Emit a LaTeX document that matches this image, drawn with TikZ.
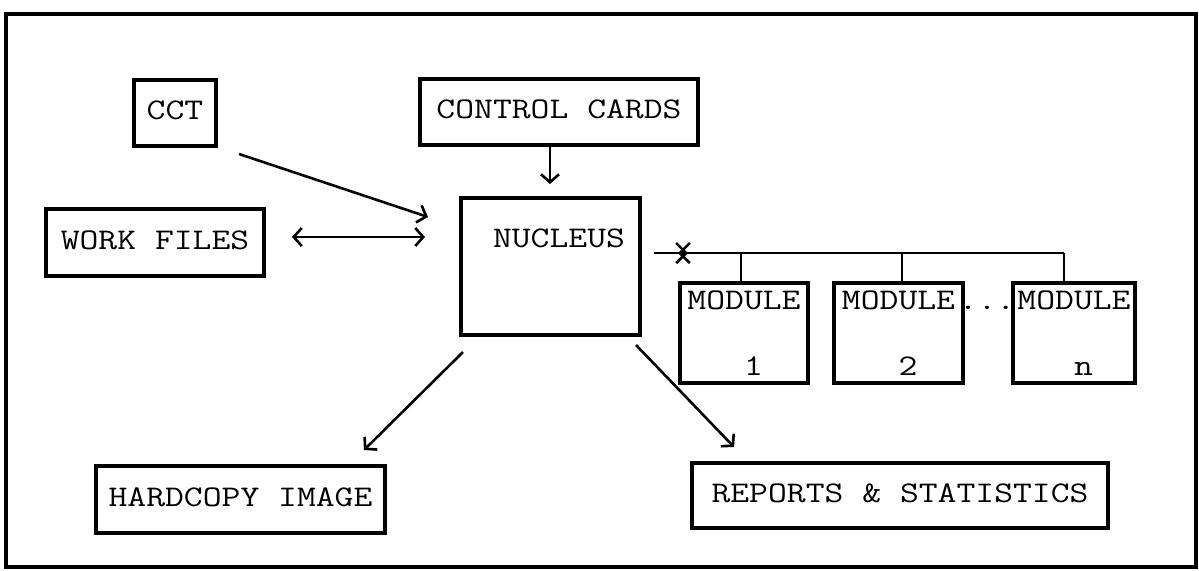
\documentclass[tikz,border=0pt]{standalone}
\usepackage{graphicx}
\usetikzlibrary{arrows.meta}
\newcommand\twtext[1]{\scalebox{1.22}[1]{#1}}
\tikzset{
  txt/.style={font=\fontsize{15}{18}\selectfont\ttfamily, inner sep=0pt},
  box/.style={draw, line width=1.6pt, txt, text depth=2.5pt},
  arr/.style={line width=1.3pt, ->},
  darr/.style={line width=1.3pt, <->},
  busline/.style={line width=1.3pt},
  bigbarb/.style={>={Straight Barb[length=5pt,width=10pt]}},
}
\begin{document}
\begin{tikzpicture}[x=0.5pt,y=-0.5pt, >={Straight Barb[length=4pt,width=9pt]}]
\useasboundingbox (0,0) rectangle (1199,570);
\draw[line width=1.6pt] (6,14) rectangle (1196,567);

\node[box,minimum width=41pt,minimum height=33pt] (cct) at (175,113) {\twtext{CCT}};
\node[box,minimum width=139pt,minimum height=33pt] (ctrl) at (559,112) {\twtext{CONTROL CARDS}};
\node[box,minimum width=109pt,minimum height=33.5pt] (work) at (155,242.5) {\twtext{WORK FILES}};
\node[box,minimum width=89.5pt,minimum height=68.5pt] (nuc) at (550.5,266.5) {};
\node[txt,anchor=base] (nuct) at (559,247) {\twtext{NUCLEUS}};

\node[box,minimum width=64pt,minimum height=50pt] (m1) at (744,333) {};
\node[box,minimum width=64.5pt,minimum height=50pt] (m2) at (898.5,333) {};
\node[box,minimum width=61pt,minimum height=50pt] (mn) at (1074,333) {};
\node[txt,anchor=base] (m1a) at (744,309) {\twtext{MODULE}};
\node[txt,anchor=base] (m2a) at (898.5,309) {\twtext{MODULE}};
\node[txt,anchor=base] (mna) at (1074,309) {\twtext{MODULE}};
\node[txt,anchor=base] (m1b) at (753.5,375) {\twtext{1}};
\node[txt,anchor=base] (m2b) at (908,375) {\twtext{2}};
\node[txt,anchor=base] (mnb) at (1083.5,375) {\twtext{n}};
\node[txt,anchor=base] (dots) at (987,309) {\twtext{...}};

\node[box,minimum width=144.5pt,minimum height=33.5pt] (hard) at (240.5,499.5) {\twtext{HARDCOPY IMAGE}};
\node[box,minimum width=208pt,minimum height=32.5pt] (rep) at (900,495.5) {\twtext{REPORTS \& STATISTICS}};

% connectors
\coordinate (a1) at (239,154);
\coordinate (a2) at (428,217);
\draw[arr] (a1) -- (a2);

\coordinate (w1) at (292,237);
\coordinate (w2) at (425,237);
\draw[darr] (w1) -- (w2);

\coordinate (c2) at (550,184);
\draw[arr] (ctrl.south -| c2) -- (c2);

\coordinate (nout) at (654,253);
\coordinate (busX) at (688,253);
\coordinate (busL) at (678,253);
\coordinate (busR) at (1064,253);
\coordinate (s1) at (741,253);
\coordinate (s2) at (902,253);
\draw[arr,bigbarb] (nout) -- (busX);
\draw[busline,bigbarb,<-] (busL) -- (busR);
\draw[busline] (s1) -- (s1 |- m1.north);
\draw[busline] (s2) -- (s2 |- m2.north);
\draw[busline] (busR) -- (busR |- mn.north);

\coordinate (h1) at (463,352);
\coordinate (h2) at (364,450);
\draw[arr] (h1) -- (h2);

\coordinate (r1) at (636,345);
\coordinate (r2) at (734,447);
\draw[arr] (r1) -- (r2);
\end{tikzpicture}
\end{document}
